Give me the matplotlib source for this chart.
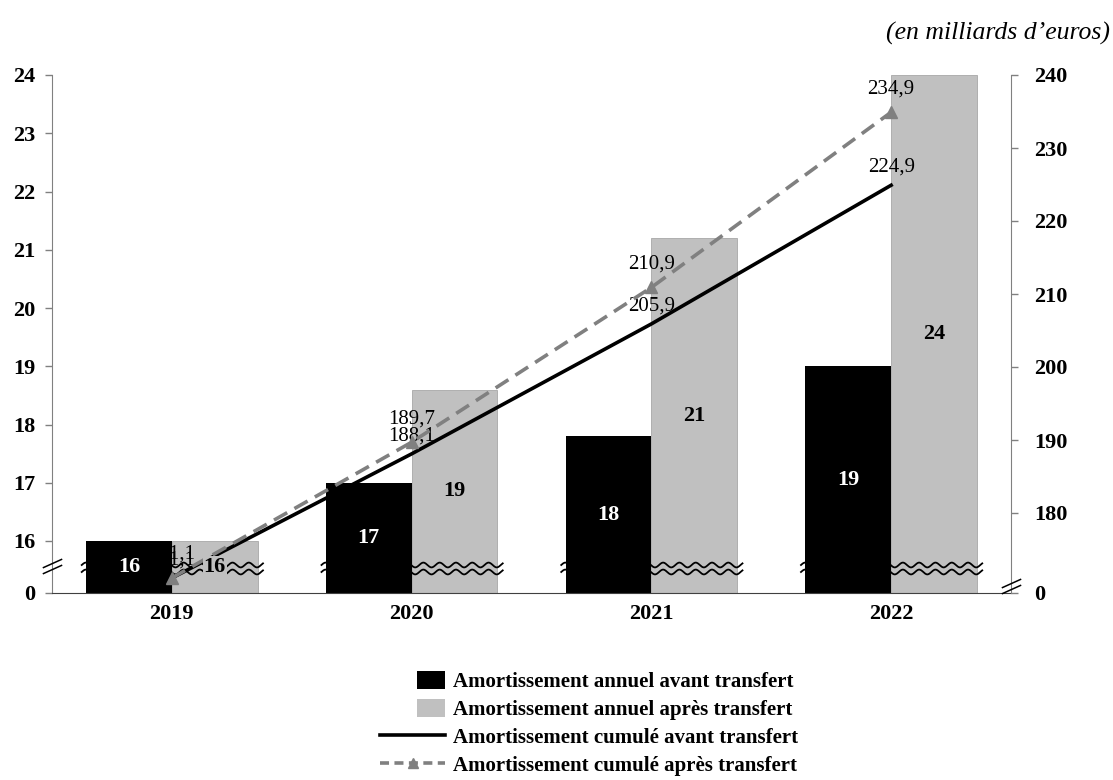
import numpy as np
import matplotlib
matplotlib.use('Agg')
import matplotlib.pyplot as plt
from matplotlib.patches import Rectangle
from matplotlib.lines import Line2D
from matplotlib.legend_handler import HandlerPatch

years = ['2019', '2020', '2021', '2022']
annuel_avant = [16.0, 17.0, 17.8, 19.0]        # barres, axe de gauche
annuel_apres = [16.0, 18.6, 21.2, 24.0]
cumule_avant = [171.1, 188.1, 205.9, 224.9]    # courbes, axe de droite
cumule_apres = [171.1, 189.7, 210.9, 234.9]

left_ticks = [0, 16, 17, 18, 19, 20, 21, 22, 23, 24]
right_ticks = [0, 180, 190, 200, 210, 220, 230, 240]
legend_labels = ['Amortissement annuel avant transfert',
                 'Amortissement annuel après transfert',
                 'Amortissement cumulé avant transfert',
                 'Amortissement cumulé après transfert']
unit_text = '(en milliards d’euros)'

GRIS = '#c0c0c0'
GRIS_FONCE = '#808080'


# axe gauche coupé : 0 -> 16 tassé, puis linéaire jusqu'à 24
def fwd_l(v):
    v = np.asarray(v, dtype=float)
    return np.where(v >= 16, 52 + (v - 16) * 58.25, v * 52 / 16)

def inv_l(u):
    u = np.asarray(u, dtype=float)
    return np.where(u >= 52, 16 + (u - 52) / 58.25, u * 16 / 52)

# axe droit coupé : 0 -> 170 tassé, puis linéaire jusqu'à 240
def fwd_r(r):
    r = np.asarray(r, dtype=float)
    return np.where(r >= 170, 7 + (r - 170) * 7.3, r * 7 / 170)

def inv_r(u):
    u = np.asarray(u, dtype=float)
    return np.where(u >= 7, 170 + (u - 7) / 7.3, u * 170 / 7)


def carre(legend, orig_handle, xdescent, ydescent, width, height, fontsize):
    cote = 20
    return Rectangle((width - cote - xdescent, -ydescent), cote, height)


def fmt(v):
    return ('%.1f' % v).replace('.', ',')


plt.rcParams['font.family'] = ['Liberation Serif', 'DejaVu Serif']
plt.rcParams['font.weight'] = 'bold'

fig = plt.figure(figsize=(11.13, 7.8), dpi=100)
ax = fig.add_axes([52 / 1113, 187 / 780, 959 / 1113, 518 / 780])
ax.set_yscale('function', functions=(fwd_l, inv_l))
ax.set_ylim(0, 24)
ax.set_xlim(-0.5, 3.5)

x = np.arange(len(years))
w = 0.358
ax.bar(x - w / 2, annuel_avant, w, color='black', zorder=2)
ax.bar(x + w / 2, annuel_apres, w, color=GRIS, edgecolor='#a8a8a8', linewidth=0.6, zorder=1)

# étiquettes au milieu des barres
for i in range(len(years)):
    ya = inv_l((fwd_l(0) + fwd_l(annuel_avant[i])) / 2)
    ax.text(x[i] - w / 2, ya, '%.0f' % annuel_avant[i], color='white', ha='center', va='center',
            fontsize=16, zorder=5)
    yb = inv_l((fwd_l(0) + fwd_l(annuel_apres[i])) / 2)
    ax.text(x[i] + w / 2, yb, '%.0f' % annuel_apres[i], color='black', ha='center', va='center',
            fontsize=16, zorder=5,
            bbox=dict(facecolor=GRIS, edgecolor='none', pad=0.5))

# vagues de coupure sur les barres
for i in range(len(years)):
    xs = np.linspace(x[i] - w - 0.018, x[i] + w + 0.022, 300)
    onde = 2.4 * np.sin((xs - xs[0]) / 0.068 * 2 * np.pi)
    for base in (28, 21):
        ax.plot(xs, inv_l(base + onde), color='black', lw=1.3, zorder=2.5)

# courbes cumulées, ramenées dans l'échelle de gauche
y_avant = inv_l(fwd_r(cumule_avant))
y_apres = inv_l(fwd_r(cumule_apres))
ax.plot(x, y_avant, color='black', lw=2.6, zorder=3)
ax.plot(x, y_apres, color=GRIS_FONCE, lw=2.6, ls=(0, (4.2, 2.3)), marker='^', ms=9, zorder=3)
for i in range(len(years)):
    ax.annotate(fmt(cumule_avant[i]), (x[i], y_avant[i]), xytext=(0, 13), textcoords='offset points',
                ha='center', va='center', fontsize=15, fontweight='normal', zorder=1.5)
    ax.annotate(fmt(cumule_apres[i]), (x[i], y_apres[i]), xytext=(0, 17), textcoords='offset points',
                ha='center', va='center', fontsize=15, fontweight='normal', zorder=1.5)

ax.set_xticks(x, years)
ax.set_yticks(left_ticks)
ax.tick_params(axis='x', length=0, pad=8, labelsize=16)
ax.tick_params(axis='y', direction='out', length=5, width=1, color=GRIS_FONCE, pad=7, labelsize=16)
ax.spines['top'].set_visible(False)
ax.spines['right'].set_visible(False)
ax.spines['left'].set_color(GRIS_FONCE)
ax.spines['bottom'].set_color('#404040')

ax2 = ax.twinx()
ax2.set_yscale('function', functions=(fwd_r, inv_r))
ax2.set_ylim(0, 240)
ax2.set_yticks(right_ticks)
ax2.tick_params(axis='y', direction='out', length=5, width=1, color=GRIS_FONCE, pad=12, labelsize=16)
for s in ('top', 'left', 'bottom'):
    ax2.spines[s].set_visible(False)
ax2.spines['right'].set_color(GRIS_FONCE)

# marques de coupure sur les axes
coupure = dict(marker=[(-1, -0.45), (1, 0.45)], markersize=14, linestyle='none',
               color='black', mec='black', mew=1.1, clip_on=False, zorder=6)
ax.plot([0, 0], inv_l([24, 30]), transform=ax.get_yaxis_transform(), **coupure)
ax2.plot([1, 1], inv_r([4, 10]), transform=ax2.get_yaxis_transform(), **coupure)

handles = [Rectangle((0, 0), 1, 1, facecolor='black'),
           Rectangle((0, 0), 1, 1, facecolor=GRIS),
           Line2D([], [], color='black', lw=2.6),
           Line2D([], [], color=GRIS_FONCE, lw=2.6, ls=(0, (2.5, 1.5)), marker='^', ms=7)]
fig.legend(handles, legend_labels, loc='upper left', bbox_to_anchor=(380 / 1113, 1 - 671 / 780),
           frameon=False, fontsize=15, handlelength=3.12, handleheight=0.96,
           handletextpad=0.38, labelspacing=0.32, borderpad=0, borderaxespad=0,
           handler_map={Rectangle: HandlerPatch(patch_func=carre)})

fig.text(1110 / 1113, 1 - 33 / 780, unit_text, ha='right', va='center', style='italic',
         fontweight='normal', fontsize=18.5)

fig.savefig('out.png', dpi=100)
